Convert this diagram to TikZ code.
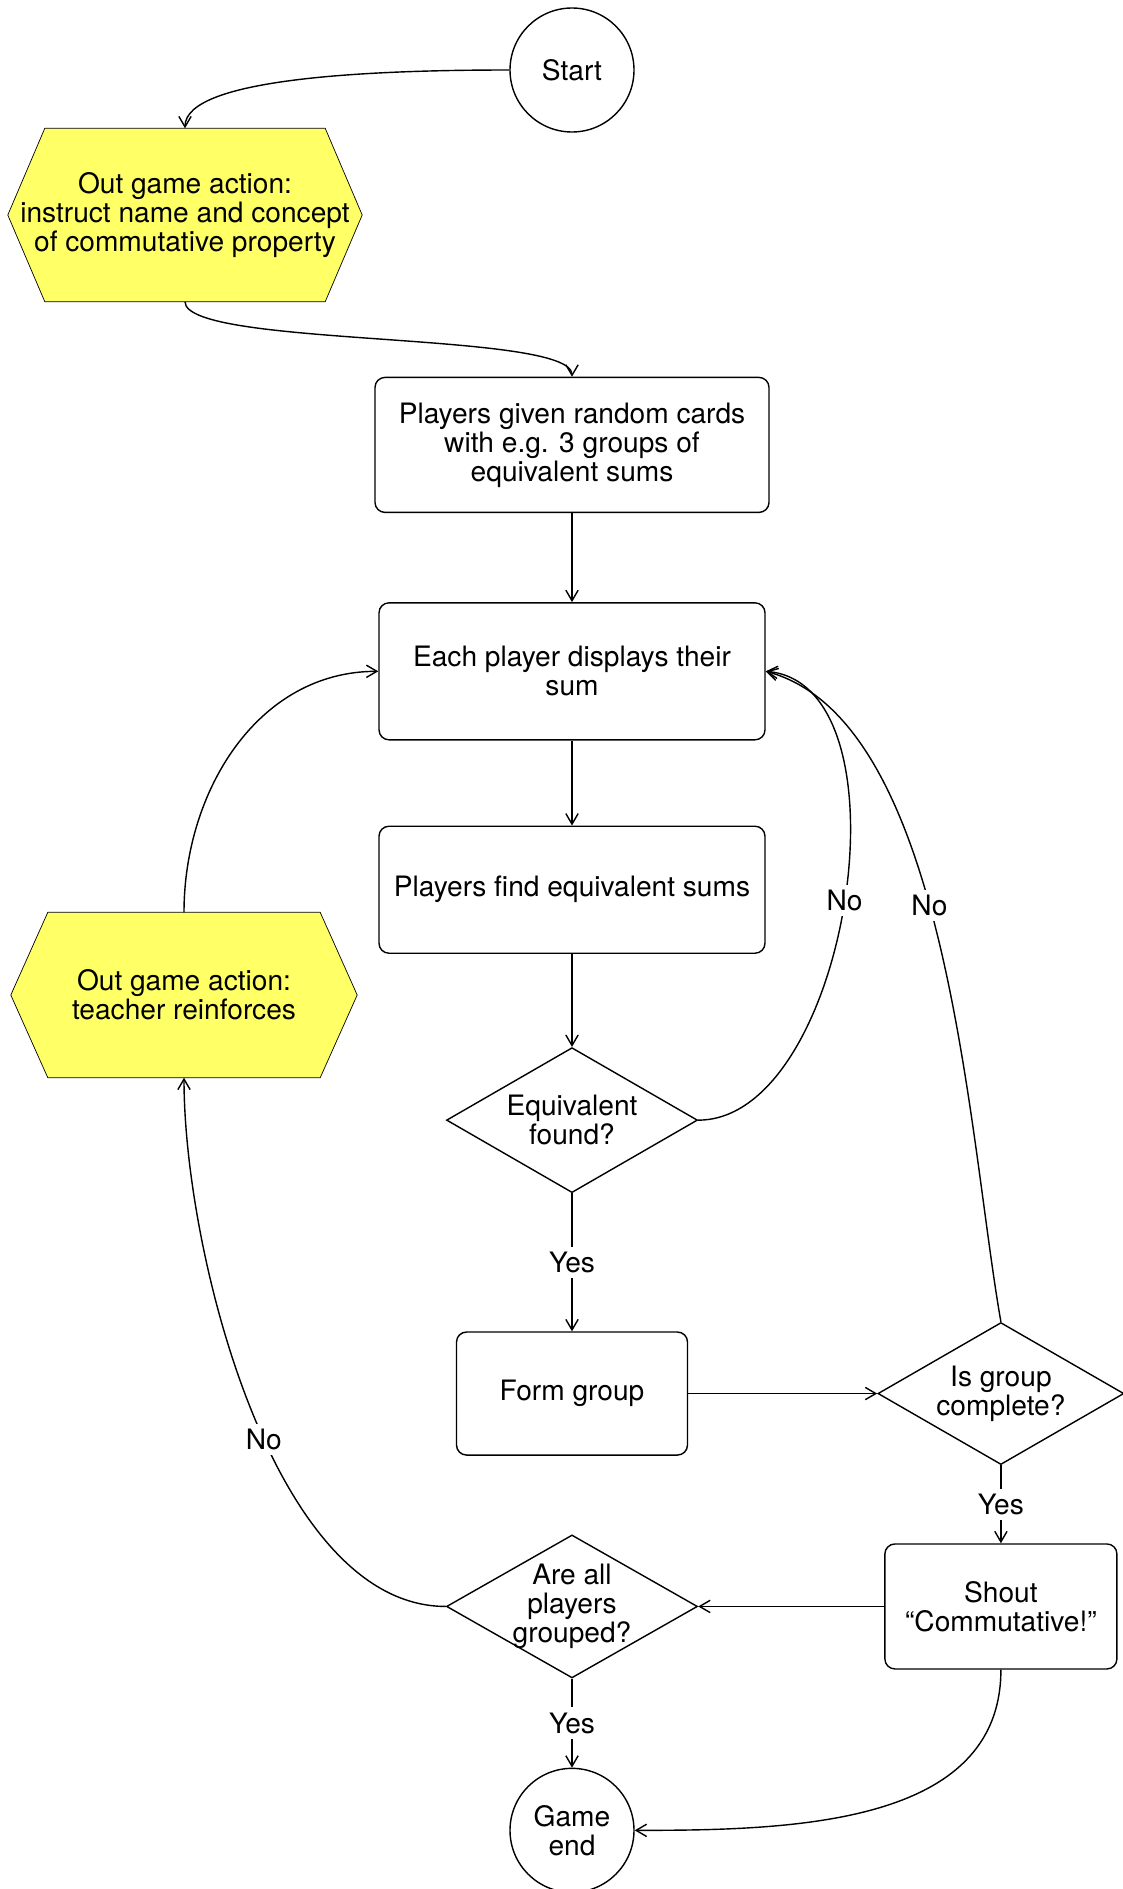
\documentclass[tikz,border=0pt]{standalone}
\usepackage{fontspec}
\setmainfont{TeX Gyre Heros}
\usepackage{tikz}
\usetikzlibrary{shapes,positioning,arrows.meta,backgrounds}
\definecolor{actionyellow}{RGB}{255,255,102}

\begin{document}
\begin{tikzpicture}[->, >={Straight Barb[length=6pt,width=7pt]}, line width=0.8pt,
        font=\fontsize{16}{16.5}\selectfont]
      \tikzstyle{term} = [circle, draw, minimum size=2.48cm, inner sep=0pt, align=center]
      \tikzstyle{proc} = [rectangle, draw, rounded corners=0.2cm, inner sep=0pt, align=center]
      \tikzstyle{decide} = [diamond, draw, aspect=1.75, inner sep=-0.2cm, align=center,
        minimum width=5.02cm, minimum height=2.90cm]
      \tikzstyle{action} = [rectangle, inner sep=0pt, align=center]
      \tikzstyle{lbl} = [fill=white, inner sep=3pt]
      \useasboundingbox (0,0) rectangle (22.46,-37.78);

      \node (start) [term] at (11.44,-1.40) {Start};
      \node (intro) [action, minimum width=7.06cm, minimum height=3.44cm] at (3.70,-4.30)
        {Out game action:\\instruct name and concept\\of commutative property};
      \node (cards) [proc, minimum width=7.88cm, minimum height=2.70cm, below=4.88cm of start]
        {Players given random cards\\with e.g. 3 groups of\\equivalent sums};
      \node (show) [proc, minimum width=7.72cm, minimum height=2.74cm, below=1.78cm of cards]
        {Each player displays their\\sum};
      \node (find) [proc, minimum width=7.72cm, minimum height=2.54cm, below=1.70cm of show]
        {Players find equivalent sums};
      \node (found) [decide, below=1.86cm of find] {Equivalent\\found?};
      \node (form) [proc, minimum width=4.62cm, minimum height=2.46cm, below=2.76cm of found]
        {Form group};
      \node (complete) [decide, minimum width=4.92cm, minimum height=2.84cm, right=3.78cm of form]
        {Is group\\complete?};
      \node (shout) [proc, minimum width=4.64cm, minimum height=2.50cm, below=1.56cm of complete]
        {Shout\\``Commutative!''};
      \node (allgrouped) [decide, minimum height=2.86cm, left=3.72cm of shout]
        {Are all\\players\\grouped?};
      \node (gameend) [term, below=1.78cm of allgrouped] {Game\\end};
      \node (reinforce) [action, minimum width=6.90cm, minimum height=3.28cm] at (3.68,-19.90)
        {Out game action:\\teacher reinforces};

      \begin{scope}[on background layer]
        \foreach \h in {intro, reinforce}
          \draw[-, fill=actionyellow] (\h.west) -- ([xshift=0.74cm]\h.north west)
            -- ([xshift=-0.74cm]\h.north east) -- (\h.east)
            -- ([xshift=-0.74cm]\h.south east) -- ([xshift=0.74cm]\h.south west) -- cycle;
      \end{scope}

      \draw (start.west) to[out=180, in=90, in looseness=0.4] (intro.north);
      \draw (intro.south) to[out=-90, in=90, looseness=0.3] (cards.north);
      \draw (cards) -- (show);
      \draw (show) -- (find);
      \draw (find) -- (found);
      \draw (found) -- node [lbl] {Yes} (form);
      \draw (form) -- (complete);
      \draw (complete) -- node [lbl] {Yes} (shout);
      \draw (shout) -- (allgrouped);
      \draw (allgrouped) -- node [lbl] {Yes} (gameend);
      \draw (shout.south) to[out=-90, in=0] (gameend.east);
      \draw (found.east) to[out=0, in=-5, looseness=0.85] node [lbl] {No} (show.east);
      \draw (complete.north) to[out=100, in=-15, looseness=0.7] node [lbl, pos=0.55] {No} (show.east);
      \draw (allgrouped.west) to[out=180, in=-90, looseness=0.75] node [lbl, pos=0.45] {No} (reinforce.south);
      \draw (reinforce.north) to[out=90, in=180] (show.west);
    \end{tikzpicture}
\end{document}
